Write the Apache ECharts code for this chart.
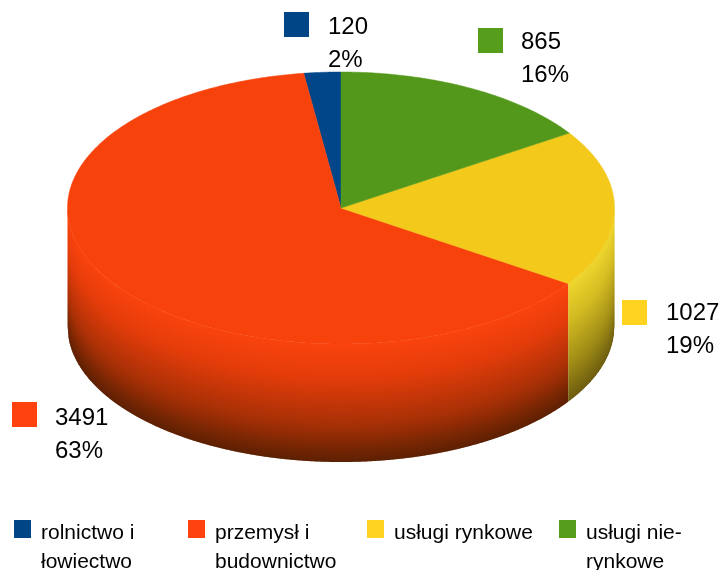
<!DOCTYPE html>
<html><head><meta charset="utf-8">
<script src="https://cdn.jsdelivr.net/npm/echarts@6/dist/echarts.min.js"></script>
<style>html,body{margin:0;padding:0;background:#fff}#c{width:722px;height:570px}</style>
</head><body><div id="c"></div>
<script>
// Data
const categories = ['rolnictwo i\nłowiectwo', 'przemysł i\nbudownictwo', 'usługi rynkowe', 'usługi nie-\nrynkowe'];
const values = [120, 3491, 1027, 865];
const legendColors = ['#004586', '#ff420e', '#ffd320', '#579d1c'];
const topColors = ['#02468a', '#f8420c', '#f3c91b', '#53981a'];
const sideStops = [
  null,
  ['#fa430d', '#e23c0a', '#a83006', '#5c2002'],
  ['#efd52a', '#d4bb1e', '#a08c12', '#6a5a0a'],
  null
];

// Layout
const CX = 341, CY = 208, RX = 273.5, RY = 136, DEPTH = 118;
const FONT = 'Liberation Sans, Arial, sans-serif';
const labelSwatch = [[284, 12], [12, 402], [622, 300], [478, 28]];
const labelText = [[328, 27], [55, 418], [666, 313], [521, 42]];
const legendLeft = [14, 188, 367, 559];

const total = values.reduce((a, b) => a + b, 0);
// Slices run counter-clockwise from 12 o'clock. Angle is measured clockwise from the top.
let cum = 0;
const spans = values.map(v => {
  const end = -cum;
  cum += v / total * 360;
  return [-cum, end];
});
const pt = (deg, dy) => {
  const a = deg * Math.PI / 180;
  return [CX + RX * Math.sin(a), CY - RY * Math.cos(a) + (dy || 0)];
};
// Front rim height of the ellipse at a given x
const rimY = x => {
  const t = Math.max(-1, Math.min(1, (x - CX) / RX));
  return CY + RY * Math.sqrt(1 - t * t);
};

function sliceRenderer(i) {
  return function () {
    const [a0, a1] = spans[i];
    const kids = [];
    // Visible wall: front half of the ellipse (90..270 deg clockwise)
    if (sideStops[i]) {
      const s = sideStops[i];
      const norm = a => (a + 360) % 360;
      const from = Math.max(norm(a0), 90), to = Math.min(norm(a0) + (a1 - a0), 270);
      const xa = pt(to)[0], xb = pt(from)[0];
      for (let x = xa; x < xb; x += 1) {
        const x1 = Math.min(x + 1.6, xb);
        const y0 = rimY(x), y1 = rimY(x1), ym = rimY(x + 0.5);
        kids.push({
          type: 'polygon', silent: true,
          shape: { points: [[x, y0], [x1, y1], [x1, y1 + DEPTH], [x, y0 + DEPTH]] },
          style: { fill: { type: 'linear', global: true, x: 0, y: ym, x2: 0, y2: ym + DEPTH,
            colorStops: [{offset: 0, color: s[0]}, {offset: 0.3, color: s[1]}, {offset: 0.68, color: s[2]}, {offset: 1, color: s[3]}] } }
        });
      }
    }
    // Top face
    const pts = [[CX, CY]];
    const n = Math.max(2, Math.ceil((a1 - a0) * 2));
    for (let k = 0; k <= n; k++) pts.push(pt(a0 + (a1 - a0) * k / n));
    kids.push({ type: 'polygon', silent: true, shape: { points: pts },
      style: { fill: topColors[i], stroke: topColors[i], lineWidth: 0.5 } });
    // Data label
    kids.push({ type: 'rect', silent: true,
      shape: { x: labelSwatch[i][0], y: labelSwatch[i][1], width: 25, height: 25 },
      style: { fill: legendColors[i] } });
    const pct = Math.round(values[i] / total * 100) + '%';
    kids.push({ type: 'text', silent: true, z2: 10,
      style: { text: values[i] + '\n' + pct, x: labelText[i][0], y: labelText[i][1] - 16,
        font: '24px ' + FONT, fill: '#000', lineHeight: 33, align: 'left', verticalAlign: 'top' } });
    return { type: 'group', children: kids };
  };
}

const option = {
  animation: false,
  backgroundColor: '#fff',
  legend: categories.map((name, i) => {
    const two = name.includes('\n');
    return {
      show: true,
      left: legendLeft[i],
      top: two ? 481.5 : 510.5,
      selectedMode: false,
      itemWidth: 17, itemHeight: 18,
      data: [{ name, icon: 'rect' }],
      padding: 0,
      formatter: n => (two ? '{b|}' : '{c|}') + '\n' + n.split('\n').map(l => '{t|' + l + '}').join('\n'),
      textStyle: {
        fontFamily: FONT, fontSize: 21, color: '#000',
        padding: [0, 0, 0, 5],
        rich: {
          t: { fontFamily: FONT, fontSize: 21, color: '#000', lineHeight: 29, height: 29 },
          b: { lineHeight: 37, height: 37, fontSize: 1 },
          c: { lineHeight: 8, height: 8, fontSize: 1 }
        }
      }
    };
  }),
  series: categories.map((name, i) => ({
    type: 'custom', name,
    coordinateSystem: 'none',
    silent: true,
    itemStyle: { color: legendColors[i] },
    data: [values[i]],
    renderItem: sliceRenderer(i)
  }))
};
echarts.init(document.getElementById('c'), null, { renderer: 'canvas' }).setOption(option);
</script></body></html>
